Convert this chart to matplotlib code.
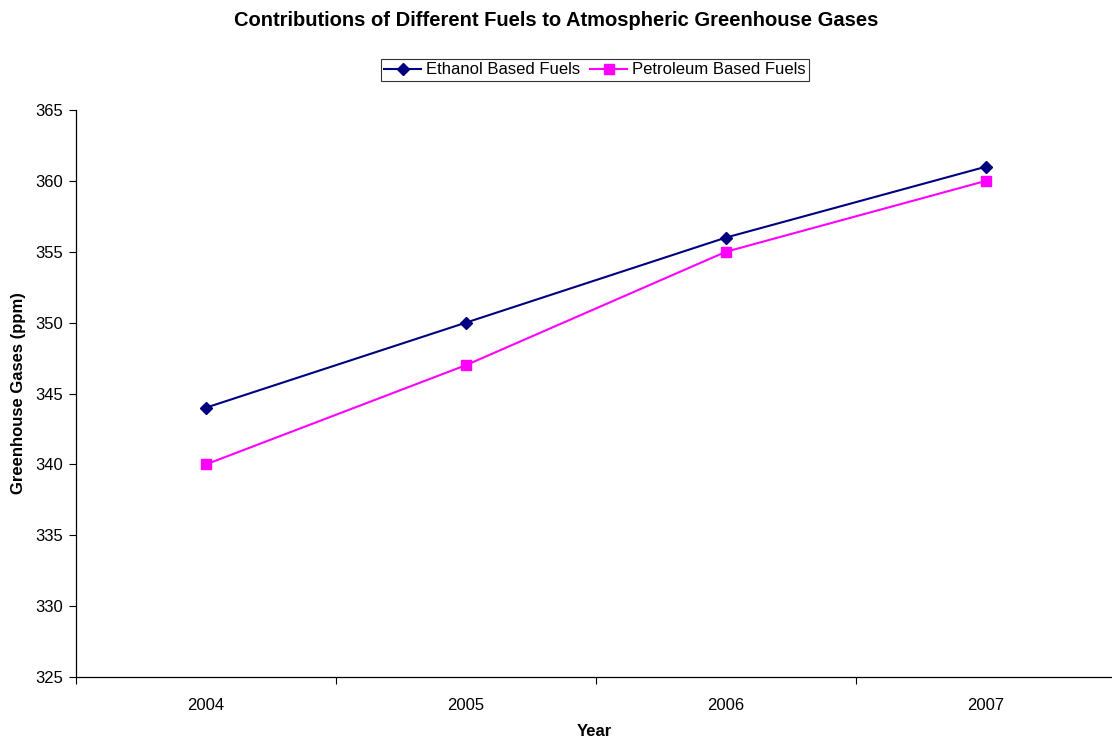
import matplotlib.pyplot as plt
import numpy as np

plt.rcParams['font.family'] = ['Liberation Sans', 'DejaVu Sans']

years = ['2004', '2005', '2006', '2007']
ethanol = [344, 350, 356, 361]
petroleum = [340, 347, 355, 360]

fig = plt.figure(figsize=(11.12, 7.38), dpi=100)
ax = fig.add_axes([76 / 1112, 61 / 738, 1 - 76 / 1112, 567 / 738])

x = np.arange(len(years))
ax.plot(x, ethanol, color='#000080', marker='D', markersize=6.5, linewidth=1.5,
        label='Ethanol Based Fuels', clip_on=False)
ax.plot(x, petroleum, color='#FF00FF', marker='s', markersize=7.5, linewidth=1.5,
        label='Petroleum Based Fuels', clip_on=False)

ax.set_ylim(325, 365)
ax.set_yticks(np.arange(325, 366, 5))
ax.set_xlim(-0.5, 3.485)
ax.set_xticks(x)
ax.set_xticklabels(years)
ax.set_xticks(np.arange(-0.5, 3.5, 1), minor=True)
ax.tick_params(axis='x', which='major', length=0, pad=15, labelsize=12)
ax.tick_params(axis='x', which='minor', length=5, width=0.8, direction='out')
ax.tick_params(axis='y', length=5, width=0.8, direction='out', labelsize=12, pad=4)

for s in ['top', 'right']:
    ax.spines[s].set_visible(False)
ax.spines['left'].set_linewidth(0.9)
ax.spines['bottom'].set_linewidth(0.9)

ax.set_xlabel('Year', fontsize=12, fontweight='bold', labelpad=8)
ax.set_ylabel('Greenhouse Gases (ppm)', fontsize=12, fontweight='bold', labelpad=7)

fig.text(0.5, 1 - 20 / 738, 'Contributions of Different Fuels to Atmospheric Greenhouse Gases',
         ha='center', va='center', fontsize=14.5, fontweight='bold')

leg = fig.legend(loc='center', bbox_to_anchor=(595 / 1112, 1 - 70 / 738), ncol=2,
                 fontsize=12, frameon=True, fancybox=False, edgecolor='black',
                 handlelength=2.2, handletextpad=0.3, columnspacing=0.6,
                 borderpad=0.2, borderaxespad=0)
leg.get_frame().set_linewidth(0.8)

fig.savefig('out.png', dpi=100)
